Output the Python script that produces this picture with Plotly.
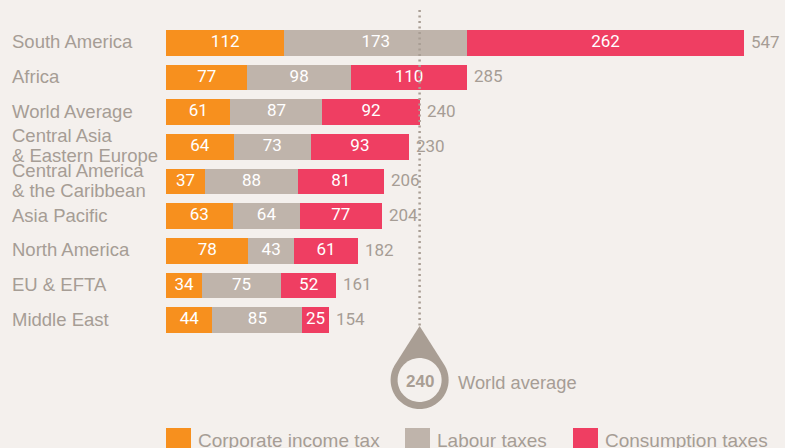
import numpy as np
import plotly.graph_objects as go

categories = ["South America", "Africa", "World Average",
              "Central Asia<br>& Eastern Europe", "Central America<br>& the Caribbean",
              "Asia Pacific", "North America", "EU & EFTA", "Middle East"]
corporate = [112, 77, 61, 64, 37, 63, 78, 34, 44]
labour = [173, 98, 87, 73, 88, 64, 43, 75, 85]
consumption = [262, 110, 92, 93, 81, 77, 61, 52, 25]
totals = [547, 285, 240, 230, 206, 204, 182, 161, 154]
world_avg = 240
series_names = ["Corporate income tax", "Labour taxes", "Consumption taxes"]

W, H = 785, 448
BG = "#f4f0ed"
C_ORANGE = "#f7901e"
C_GRAY = "#bfb4ab"
C_PINK = "#ef3e62"
TXT = "#a69d95"
DROP = "#a99e94"
NUM_FONT = "Roboto, Liberation Sans, Arial"
LBL_FONT = "Liberation Sans, Arial, sans-serif"

x_dom0 = 166 / W
x_max = (W - 166) / 1.0567
row_px = 34.65
y_top = -42.8 / row_px
y_bot = y_top + H / row_px
bar_w = 25.7 / row_px

fig = go.Figure()
cols = [C_ORANGE, C_GRAY, C_PINK]
series = [corporate, labour, consumption]
for name, vals, col in zip(series_names, series, cols):
    fig.add_trace(go.Bar(y=categories, x=vals, orientation="h", name=name,
                         marker=dict(color=col, line=dict(width=0)),
                         width=bar_w, hoverinfo="skip"))

# value labels at segment centres
base = np.zeros(len(categories))
for vals in series:
    v = np.array(vals, dtype=float)
    fig.add_trace(go.Scatter(y=categories, x=base + v / 2, mode="text",
                             text=[str(x) for x in vals],
                             textfont=dict(color="white", size=17, family=NUM_FONT),
                             textposition="middle center", hoverinfo="skip"))
    base = base + v

annotations = []
for c, t in zip(categories, totals):
    annotations.append(dict(x=t, xref="x", y=c, yref="y", text=str(t),
                            showarrow=False, xanchor="left", yanchor="middle", xshift=5,
                            yshift=1,
                            font=dict(size=17, color=TXT, family=NUM_FONT)))

for c in categories:
    lines = c.split("<br>")
    n = len(lines)
    for i, ln in enumerate(lines):
        annotations.append(dict(x=10 / W, xref="paper", y=c, yref="y", text=ln,
                                showarrow=False, xanchor="left", yanchor="middle",
                                yshift=((n - 1) / 2 - i) * 20 + 1,
                                font=dict(size=18.5, color=TXT, family=LBL_FONT)))

shapes = []
# dotted world average line
tip_py = 326
shapes.append(dict(type="line", xref="x", yref="paper", x0=world_avg, x1=world_avg,
                   y0=1 - 10 / H, y1=1 - tip_py / H,
                   line=dict(color=DROP, width=2.5, dash="2px,3.5px"), layer="above"))

# droplet
cx = 166 + world_avg / x_max * (W - 166)
cy = 380
r_out = 29
r_in = 22
d = cy - tip_py
th = np.arccos(r_out / d)


def circle_path(cxp, cyp, r, n=60):
    p = []
    for i, a in enumerate(np.linspace(0, 2 * np.pi, n)):
        x = (cxp + r * np.cos(a)) / W
        y = 1 - (cyp + r * np.sin(a)) / H
        p.append(("M" if i == 0 else "L") + f"{x:.5f},{y:.5f}")
    return " ".join(p) + " Z"


drop_pts = [(cx, tip_py)]
a0 = -np.pi / 2 + th
a1 = 3 * np.pi / 2 - th
for a in np.linspace(a0, a1, 80):
    drop_pts.append((cx + r_out * np.cos(a), cy + r_out * np.sin(a)))
drop_path = " ".join(("M" if i == 0 else "L") + f"{px / W:.5f},{1 - py / H:.5f}"
                     for i, (px, py) in enumerate(drop_pts)) + " Z"
shapes.append(dict(type="path", xref="paper", yref="paper", path=drop_path,
                   fillcolor=DROP, line=dict(width=0), layer="above"))
shapes.append(dict(type="path", xref="paper", yref="paper", path=circle_path(cx, cy, r_in),
                   fillcolor=BG, line=dict(width=0), layer="above"))
annotations.append(dict(x=cx / W, xref="paper", y=1 - (cy + 1) / H, yref="paper",
                        text="<b>240</b>", showarrow=False, xanchor="center", yanchor="middle",
                        font=dict(size=17, color=DROP, family=LBL_FONT)))
annotations.append(dict(x=456 / W, xref="paper", y=1 - 382 / H, yref="paper",
                        text="World average", showarrow=False, xanchor="left", yanchor="middle",
                        font=dict(size=18.3, color=TXT, family=LBL_FONT)))

# legend
leg_x = [166, 405, 573]
for lx, name, col in zip(leg_x, series_names, cols):
    shapes.append(dict(type="rect", xref="paper", yref="paper",
                       x0=lx / W, x1=(lx + 25) / W, y0=1 - 428 / H, y1=-0.05,
                       fillcolor=col, line=dict(width=0)))
    annotations.append(dict(x=(lx + 30) / W, xref="paper", y=1 - 440 / H, yref="paper",
                            text=name, showarrow=False, xanchor="left", yanchor="middle",
                            font=dict(size=19, color=TXT, family=LBL_FONT)))

fig.update_layout(
    width=W, height=H, margin=dict(l=0, r=0, t=0, b=0),
    paper_bgcolor=BG, plot_bgcolor=BG, barmode="stack", showlegend=False,
    xaxis=dict(domain=[x_dom0, 1], range=[0, x_max], visible=False, fixedrange=True),
    yaxis=dict(type="category", categoryorder="array", categoryarray=categories,
               range=[y_bot, y_top], visible=False, fixedrange=True),
    shapes=shapes, annotations=annotations,
)

fig.write_html("out.html", config={"displayModeBar": False},
               post_script="document.body.style.margin='0';document.body.style.overflow='hidden';document.body.style.background='" + BG + "';")
